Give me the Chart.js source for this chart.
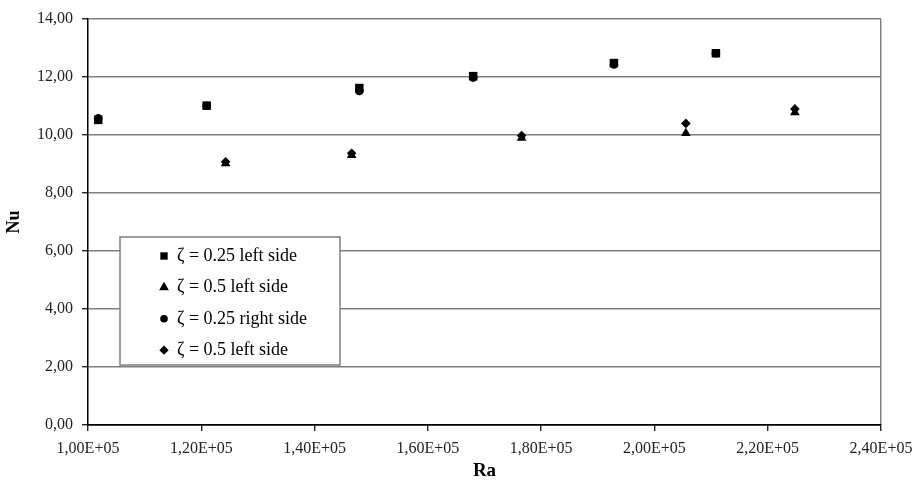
<!DOCTYPE html>
<html>
<head>
<meta charset="utf-8">
<script src="https://cdn.jsdelivr.net/npm/chart.js@4/dist/chart.umd.min.js"></script>
<style>
  html, body { margin: 0; padding: 0; background: #fff; }
  #c { display: block; }
</style>
</head>
<body>
<canvas id="c" width="917" height="481"></canvas>
<script>
// Rayleigh number (x) and Nusselt number (y) for each configuration
const raSquare   = [101800, 120950, 147900, 168000, 192850, 210850];
const nuSquare   = [10.52, 11.01, 11.62, 12.03, 12.48, 12.82];

const raTriangle = [124300, 146550, 176550, 205550, 224800];
const nuTriangle = [9.02, 9.30, 9.90, 10.06, 10.78];

const raCircle   = [101800, 120950, 147900, 168000, 192850, 210850];
const nuCircle   = [10.58, 11.01, 11.52, 11.98, 12.43, 12.82];

const raDiamond  = [124300, 146550, 176550, 205550, 224800];
const nuDiamond  = [9.08, 9.37, 9.98, 10.40, 10.90];

const seriesLabels = [
  'ζ = 0.25 left side',
  'ζ = 0.5 left side',
  'ζ = 0.25 right side',
  'ζ = 0.5 left side'
];

const xMin = 100000, xMax = 240000, xStep = 20000;
const yMin = 0, yMax = 14, yStep = 2;

const toPoints = (xs, ys) => xs.map((x, i) => ({ x: x, y: ys[i] }));

const GRID = '#7f7f7f';
const SERIF = '"Liberation Serif", "Times New Roman", serif';

// Exponent-style labels with a decimal comma, e.g. 1,20E+05
function fmtSci(v) {
  const e = Math.floor(Math.log10(v));
  const m = (v / Math.pow(10, e)).toFixed(2).replace('.', ',');
  return m + 'E+' + String(e).padStart(2, '0');
}

// Boxed legend drawn inside the plot area
const boxedLegend = {
  id: 'boxedLegend',
  afterDatasetsDraw(chart) {
    const { ctx, chartArea } = chart;
    const x0 = chartArea.left + 32, y0 = chartArea.top + 218;
    const w = 220, h = 128;
    ctx.save();
    ctx.fillStyle = '#fff';
    ctx.fillRect(x0, y0, w, h);
    ctx.strokeStyle = GRID;
    ctx.lineWidth = 1.5;
    ctx.strokeRect(x0, y0, w, h);
    ctx.font = '18px ' + SERIF;
    ctx.textBaseline = 'middle';
    ctx.textAlign = 'left';
    chart.data.datasets.forEach((ds, i) => {
      const cy = y0 + 19 + i * 31.4;
      ctx.fillStyle = '#000';
      Chart.helpers.drawPoint(ctx, {
        pointStyle: ds.pointStyle,
        radius: ds.legendRadius,
        rotation: 0,
        borderWidth: 0
      }, x0 + 44, cy);
      ctx.fillStyle = '#000';
      ctx.fillText(ds.label, x0 + 57, cy);
    });
    ctx.restore();
  }
};

const mk = (label, xs, ys, style, r, lr) => ({
  label: label,
  data: toPoints(xs, ys),
  pointStyle: style,
  pointRadius: r,
  pointHoverRadius: r,
  pointBorderWidth: 0,
  backgroundColor: '#000',
  borderColor: '#000',
  showLine: false,
  legendRadius: lr
});

new Chart(document.getElementById('c'), {
  type: 'scatter',
  data: {
    datasets: [
      mk(seriesLabels[0], raSquare, nuSquare, 'rect', 6, 5.2),
      mk(seriesLabels[1], raTriangle, nuTriangle, 'triangle', 5.6, 5.6),
      mk(seriesLabels[2], raCircle, nuCircle, 'circle', 4.3, 3.8),
      mk(seriesLabels[3], raDiamond, nuDiamond, 'rectRot', 4.8, 4.6)
    ]
  },
  options: {
    responsive: false,
    animation: false,
    devicePixelRatio: 1,
    layout: { padding: { left: 0, top: 19, right: 36, bottom: 0 } },
    plugins: {
      legend: { display: false },
      tooltip: { enabled: false }
    },
    scales: {
      x: {
        type: 'linear',
        min: xMin, max: xMax,
        afterFit(s) { s.height = 56; s.paddingLeft = 0; s.paddingRight = 0; },
        ticks: {
          stepSize: xStep,
          padding: 8,
          maxRotation: 0,
          color: '#222',
          font: { family: SERIF, size: 16 },
          callback: (v) => fmtSci(v)
        },
        grid: {
          drawTicks: true,
          tickLength: 6,
          tickWidth: 1.2,
          tickColor: '#000',
          lineWidth: 1.5,
          color: (c) => (c.tick && c.tick.value === xMax) ? GRID : 'rgba(0,0,0,0)'
        },
        border: { display: true, color: '#000', width: 1.5 },
        title: {
          display: true,
          text: 'Ra',
          color: '#000',
          font: { family: SERIF, size: 19, weight: 'bold', lineHeight: 1 },
          padding: { top: 0, bottom: 0 }
        }
      },
      y: {
        type: 'linear',
        min: yMin, max: yMax,
        afterFit(s) { s.width = 88; s.paddingTop = 0; s.paddingBottom = 0; },
        ticks: {
          stepSize: yStep,
          padding: 9,
          color: '#222',
          font: { family: SERIF, size: 16 },
          callback: (v) => v.toFixed(2).replace('.', ',')
        },
        grid: {
          drawTicks: true,
          tickLength: 6,
          tickWidth: 1.2,
          tickColor: '#000',
          lineWidth: 1.5,
          color: (c) => (c.tick && c.tick.value === yMin) ? '#000' : GRID
        },
        border: { display: true, color: '#000', width: 1.5 },
        title: {
          display: true,
          text: 'Nu',
          color: '#000',
          font: { family: SERIF, size: 18, weight: 'bold', lineHeight: 1.2 },
          padding: { top: 4, bottom: 0 }
        }
      }
    }
  },
  plugins: [boxedLegend]
});
</script>
</body>
</html>
